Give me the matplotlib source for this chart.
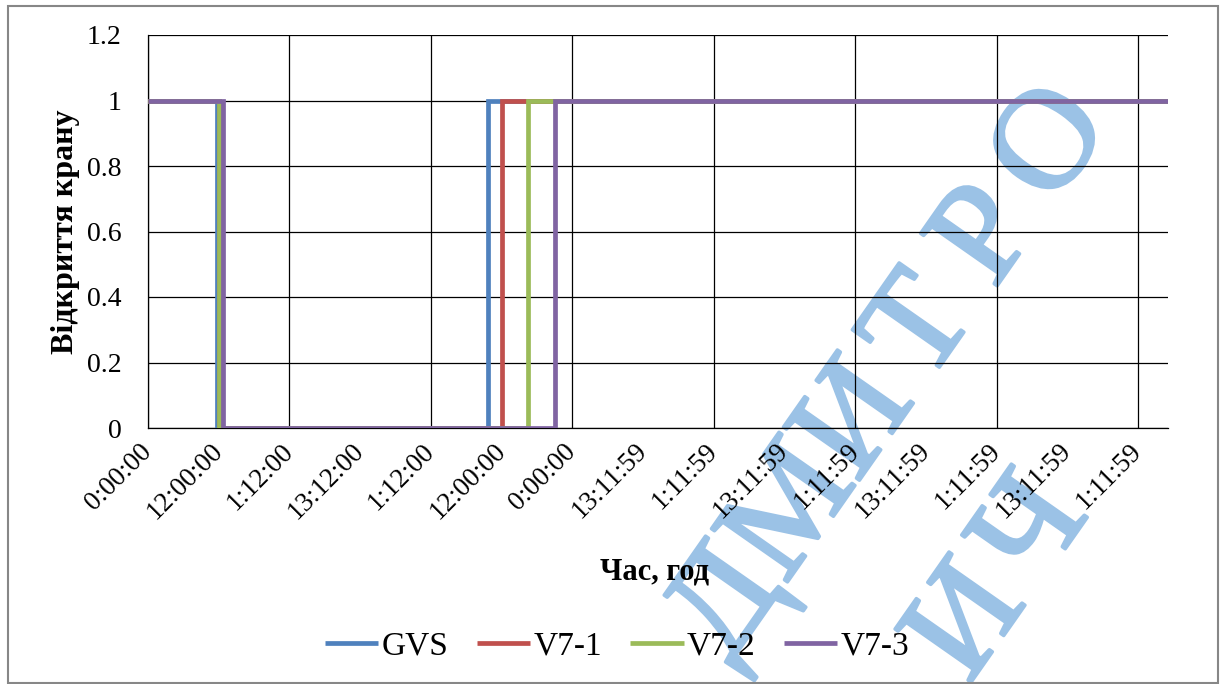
import matplotlib
matplotlib.use("Agg")
import matplotlib.pyplot as plt
import matplotlib.patheffects as pe
from matplotlib.patches import Rectangle

plt.rcParams['font.family'] = ['Liberation Serif', 'DejaVu Serif']

# Category axis: one label per interval, vertical grid every second label
tick_labels = ["0:00:00", "12:00:00", "1:12:00", "13:12:00", "1:12:00", "12:00:00",
               "0:00:00", "13:11:59", "1:11:59", "13:11:59", "1:11:59", "13:11:59",
               "1:11:59", "13:11:59", "1:11:59"]
x_end = 14.42

series = ["GVS", "V7-1", "V7-2", "V7-3"]
colors = ["#4F81BD", "#C0504D", "#9BBB59", "#8064A2"]
# valve closes / reopens (position on the time axis)
t_close = [0.98, 1.00, 1.01, 1.06]
t_open = [4.81, 5.00, 5.37, 5.75]
level_open = 1
level_closed = 0

W, H = 1224, 684
fig = plt.figure(figsize=(W / 100, H / 100), dpi=100)
ax = fig.add_axes([148 / W, 1 - 428 / H, 1020 / W, 393 / H])
ax.patch.set_facecolor('none')

for name, c, t0, t1 in zip(series, colors, t_close, t_open):
    xs = [0, t0, t0, t1, t1, x_end]
    ys = [level_open, level_open, level_closed, level_closed, level_open, level_open]
    ax.plot(xs, ys, color=c, lw=3.4, label=name, solid_joinstyle='miter',
            solid_capstyle='butt', zorder=3)

ax.set_xlim(0, x_end)
ax.set_ylim(0, 1.2)
ax.set_yticks([0, 0.2, 0.4, 0.6, 0.8, 1.0, 1.2])
ax.set_yticklabels(["0", "0.2", "0.4", "0.6", "0.8", "1", "1.2"], fontsize=20)
ax.set_xticks(range(len(tick_labels)))
ax.set_xticklabels(tick_labels, fontsize=19.5, rotation=45, ha='right',
                   va='center', rotation_mode='anchor')
ax.tick_params(axis='y', length=0, pad=19)
ax.tick_params(axis='x', length=0, pad=14)

ax.yaxis.grid(True, color='black', lw=0.9)
for xv in range(0, len(tick_labels), 2):
    ax.axvline(xv, color='black', lw=0.9, zorder=1)
ax.set_axisbelow(True)
for s in ['top', 'right']:
    ax.spines[s].set_visible(False)
for s in ['left', 'bottom']:
    ax.spines[s].set_color('black')
    ax.spines[s].set_linewidth(0.9)

ax.set_ylabel("Відкриття крану", fontsize=23, fontweight='bold', labelpad=5)
fig.text(655 / W, 1 - 572 / H, "Час, год", fontsize=22, fontweight='bold',
         ha='center', va='center')

fig.legend(loc='center', bbox_to_anchor=(617 / W, 1 - 646 / H), ncol=4,
           frameon=False, prop={'family': 'Liberation Serif', 'size': 24},
           handlelength=1.6, handletextpad=0.1, columnspacing=0.85)

# watermark behind the chart, letters spaced out along a diagonal
wm_color = '#9BC2E6'
step = (65.2, -92.0)
for text, (x0, y0) in [("ДМИТРО", (728, 606)), ("ИЧ", (970, 624))]:
    for i, ch in enumerate(text):
        px, py = x0 + i * step[0], y0 + i * step[1]
        fig.text(px / W, 1 - py / H, ch, color=wm_color, fontsize=102,
                 rotation=55, rotation_mode='anchor', ha='center', va='center',
                 zorder=-1,
                 path_effects=[pe.Stroke(linewidth=2.5, foreground=wm_color),
                               pe.Normal()])

# chart frame
fig.patches.append(Rectangle((8 / W, 1 - 683 / H), 1210 / W, 677 / H,
                             transform=fig.transFigure, fill=False,
                             edgecolor='#878787', lw=1.5))

fig.savefig("out.png", dpi=100)
